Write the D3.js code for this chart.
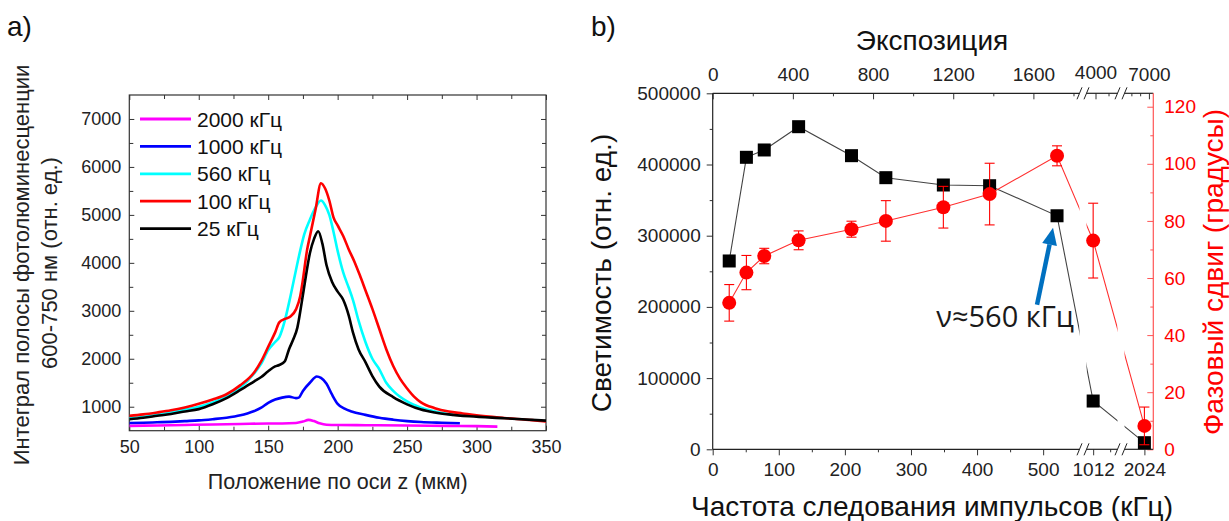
<!DOCTYPE html>
<html>
<head>
<meta charset="utf-8">
<script src="https://cdn.jsdelivr.net/npm/d3@7"></script>
<style>
body { margin: 0; background: #fff; }
svg { font-family: "Liberation Sans", Arial, sans-serif; }
</style>
</head>
<body>
<svg id="chart" width="1229" height="521"></svg>
<script>
// ---- panel a: PL band integral vs z position, one curve per repetition rate ----
var curve2000 = [[50,600],[70,610],[90,620],[110,630],[130,640],[150,650],[160,650],[170,660],[175,690],[179,725],[183,700],[187,655],[192,625],[200,618],[220,615],[250,610],[280,600],[300,595],[315,585]];
var curve1000 = [[50,660],[60,665],[70,675],[80,685],[90,700],[100,715],[110,740],[120,770],[130,820],[135,860],[140,910],[145,980],[150,1080],[155,1150],[160,1190],[165,1210],[170,1180],[172,1190],[175,1330],[180,1500],[185,1630],[188,1600],[192,1480],[196,1250],[200,1060],[205,960],[210,900],[220,830],[230,770],[240,730],[250,700],[260,680],[275,665],[288,655]];
var curve560 = [[50,760],[60,790],[70,830],[80,880],[90,940],[100,1000],[110,1090],[120,1210],[130,1400],[140,1700],[145,1900],[150,2180],[155,2350],[158,2450],[162,2800],[166,3300],[170,3850],[173,4250],[176,4600],[180,4900],[184,5150],[188,5300],[191,5200],[194,5000],[197,4650],[200,4250],[204,3800],[208,3480],[211,3230],[215,2800],[220,2350],[225,2000],[230,1780],[235,1500],[240,1330],[250,1110],[260,980],[270,900],[283,830]];
var curve100 = [[50,810],[60,840],[70,880],[80,925],[90,985],[100,1060],[110,1150],[120,1260],[130,1450],[140,1720],[145,1950],[150,2250],[155,2550],[158,2760],[162,2830],[166,2880],[170,3030],[173,3300],[175,3650],[178,4270],[180,4550],[184,5100],[188,5660],[191,5550],[194,5300],[197,4950],[200,4780],[204,4560],[208,4280],[212,4030],[216,3740],[220,3430],[225,3040],[230,2620],[235,2200],[240,1850],[245,1580],[250,1380],[255,1210],[260,1090],[270,970],[280,900],[290,860],[300,820],[320,765],[340,720],[350,690]];
var curve25 = [[50,740],[60,770],[70,810],[80,850],[90,900],[100,950],[110,1050],[120,1180],[130,1350],[140,1530],[145,1620],[150,1740],[155,1840],[158,1870],[162,1950],[165,2200],[168,2400],[171,2650],[174,3150],[177,3700],[180,4200],[183,4500],[186,4660],[189,4400],[192,3950],[196,3600],[200,3400],[204,3230],[208,2900],[211,2550],[215,2200],[220,1930],[225,1640],[230,1420],[240,1200],[250,1050],[260,940],[270,880],[280,840],[295,800],[320,760],[350,710]];
var legendLabels = ["2000 кГц", "1000 кГц", "560 кГц", "100 кГц", "25 кГц"];
var curveColors = ["#ff00ff", "#0000ff", "#00ffff", "#ff0000", "#000000"];
var zTicks = [50, 100, 150, 200, 250, 300, 350];
var plTicks = [1000, 2000, 3000, 4000, 5000, 6000, 7000];

// ---- panel b: brightness and phase shift vs pulse repetition rate ----
var freqKHz = [25, 51, 78, 130, 210, 262, 349, 419, 521, 1012, 2024];
var brightness = [264500, 410100, 420400, 453100, 412400, 381500, 371200, 370200, 328000, 67800, 9300];
var phaseDeg = [51.3, 61.9, 67.7, 73.2, 77.1, 80.0, 84.8, 89.4, 102.8, 73.1, 8.2];
var phaseErr = [6.4, 6.0, 2.7, 3.3, 2.8, 7.1, 7.3, 10.8, 3.5, 13.1, 6.6];
var freqTicks = [0, 100, 200, 300, 400, 500];
var exposureTicks = [0, 400, 800, 1200, 1600];

var FONT = "'Liberation Sans', Arial, sans-serif";
var fmt = d3.format("d");
var svg = d3.select("#chart");

function addAxis(g, axis, tx, ty, size, color) {
    var a = g.append("g")
        .attr("transform", "translate(" + tx + "," + ty + ")")
        .call(axis)
        .attr("font-size", null)
        .attr("font-family", null);
    a.select(".domain").remove();
    a.selectAll("line").attr("stroke", color || "#333");
    a.selectAll("text")
        .style("font-size", size + "px")
        .style("font-family", FONT)
        .attr("fill", color || "#222");
    return a;
}

// ================= panel a =================
var xA = d3.scaleLinear().domain([50, 350]).range([129.3, 546]);
var yA = d3.scaleLinear().domain([500, 7500]).range([430.7, 95]);
var gA = svg.append("g");

gA.append("clipPath").attr("id", "clipA").append("rect")
    .attr("x", xA(50)).attr("y", yA(7500))
    .attr("width", xA(350) - xA(50)).attr("height", yA(500) - yA(7500));

// ticks, all pointing inward
addAxis(gA, d3.axisBottom(xA).tickValues(zTicks).tickSize(-5).tickPadding(10).tickFormat(fmt), 0, yA(500), 18);
addAxis(gA, d3.axisBottom(xA).tickValues(d3.range(75, 350, 50)).tickSize(-4).tickFormat(""), 0, yA(500), 18);
addAxis(gA, d3.axisTop(xA).tickValues(zTicks).tickSize(-5).tickFormat(""), 0, yA(7500), 18);
addAxis(gA, d3.axisTop(xA).tickValues(d3.range(75, 350, 50)).tickSize(-4).tickFormat(""), 0, yA(7500), 18);
addAxis(gA, d3.axisLeft(yA).tickValues(plTicks).tickSize(-5).tickPadding(8).tickFormat(fmt), xA(50), 0, 18);
addAxis(gA, d3.axisLeft(yA).tickValues(d3.range(1500, 7000, 1000)).tickSize(-4).tickFormat(""), xA(50), 0, 18);
addAxis(gA, d3.axisRight(yA).tickValues(plTicks).tickSize(-5).tickFormat(""), xA(350), 0, 18);
addAxis(gA, d3.axisRight(yA).tickValues(d3.range(1500, 7000, 1000)).tickSize(-4).tickFormat(""), xA(350), 0, 18);

gA.append("rect")
    .attr("x", xA(50)).attr("y", yA(7500))
    .attr("width", xA(350) - xA(50)).attr("height", yA(500) - yA(7500))
    .attr("fill", "none").attr("stroke", "#333").attr("stroke-width", 1.2);

var lineA = d3.line()
    .x(function (d) { return xA(d[0]); })
    .y(function (d) { return yA(d[1]); })
    .curve(d3.curveMonotoneX);

var curves = [curve2000, curve1000, curve560, curve100, curve25];
gA.append("g").attr("clip-path", "url(#clipA)")
    .selectAll("path").data(curves).enter().append("path")
    .attr("d", lineA)
    .attr("fill", "none")
    .attr("stroke-width", 2.6)
    .attr("stroke-linejoin", "round")
    .attr("stroke", function (d, i) { return curveColors[i]; });

// legend
var legend = gA.append("g");
legendLabels.forEach(function (lab, i) {
    var y = 119 + i * 27.4;
    legend.append("line").attr("x1", 140).attr("x2", 191).attr("y1", y).attr("y2", y)
        .attr("stroke", curveColors[i]).attr("stroke-width", 2.8);
    legend.append("text").attr("x", 197).attr("y", y).attr("dy", "0.36em")
        .style("font-size", "21px").attr("fill", "#111").text(lab);
});

gA.append("text").attr("x", (xA(50) + xA(350)) / 2).attr("y", 489)
    .attr("text-anchor", "middle").style("font-size", "21.5px").attr("fill", "#222")
    .text("Положение по оси z (мкм)");
gA.append("text").attr("transform", "translate(29,265) rotate(-90)")
    .attr("text-anchor", "middle").style("font-size", "22px").attr("fill", "#222")
    .text("Интеграл полосы фотолюминесценции");
gA.append("text").attr("transform", "translate(57,263) rotate(-90)")
    .attr("text-anchor", "middle").style("font-size", "22px").attr("fill", "#222")
    .text("600-750 нм (отн. ед.)");
svg.append("text").attr("x", 7).attr("y", 36).style("font-size", "28px").attr("fill", "#111").text("a)");

// ================= panel b =================
var gB = svg.append("g");
var bLeft = 712.7, bRight = 1153.3, bTop = 93.3, bBottom = 449.3;
var brk1 = 1083, brk2 = 1121, half = 3.5;

// broken x axis: three linear pieces
var s1 = d3.scaleLinear().domain([0, 555]).range([bLeft, brk1 - half]);
var s2 = d3.scaleLinear().domain([1000, 1050]).range([brk1 + 2, brk2 - 2]);
var s3 = d3.scaleLinear().domain([2000, 2050]).range([brk2 + 3, 1166.5]);
function xB(v) { return v < 800 ? s1(v) : (v < 1600 ? s2(v) : s3(v)); }

// top axis (exposure), also broken
var t1 = d3.scaleLinear().domain([0, 1830]).range([bLeft, brk1 - half]);
var t2 = d3.scaleLinear().domain([3900, 4300]).range([brk1 + 6, brk2 - 6]);
var t3 = d3.scaleLinear().domain([6500, 7100]).range([brk2 + 6, bRight]);

var yB = d3.scaleLinear().domain([0, 500000]).range([bBottom, bTop]);
var yR = d3.scaleLinear().domain([0, 124.7]).range([bBottom, bTop]);

// bottom ticks (outward)
addAxis(gB, d3.axisBottom(s1).tickValues(freqTicks).tickSize(6).tickPadding(7).tickFormat(fmt), 0, bBottom, 19);
addAxis(gB, d3.axisBottom(s1).tickValues(d3.range(50, 500, 100)).tickSize(3).tickFormat(""), 0, bBottom, 19);
addAxis(gB, d3.axisBottom(s2).tickValues([1012]).tickSize(6).tickPadding(7).tickFormat(fmt), 0, bBottom, 19);
addAxis(gB, d3.axisBottom(s2).tickValues([1037]).tickSize(3).tickFormat(""), 0, bBottom, 19);
addAxis(gB, d3.axisBottom(s3).tickValues([2024]).tickSize(6).tickPadding(7).tickFormat(fmt), 0, bBottom, 19);

// top ticks (inward)
addAxis(gB, d3.axisTop(t1).tickValues(exposureTicks).tickSize(-6).tickPadding(12).tickFormat(fmt), 0, bTop, 19);
addAxis(gB, d3.axisTop(t1).tickValues(d3.range(200, 1900, 400)).tickSize(-3).tickFormat(""), 0, bTop, 19);
addAxis(gB, d3.axisTop(t2).tickValues([4000]).tickSize(-6).tickPadding(14).tickFormat(fmt), 0, bTop, 19);
addAxis(gB, d3.axisTop(t2).tickValues([4200]).tickSize(-3).tickFormat(""), 0, bTop, 19);
addAxis(gB, d3.axisTop(t3).tickValues([7000]).tickSize(-6).tickPadding(12).tickFormat(fmt), 0, bTop, 19);
addAxis(gB, d3.axisTop(t3).tickValues([6600, 6800]).tickSize(-3).tickFormat(""), 0, bTop, 19);

// left axis (outward)
addAxis(gB, d3.axisLeft(yB).tickValues(d3.range(0, 500001, 100000)).tickSize(6).tickPadding(6).tickFormat(fmt), bLeft, 0, 19);
addAxis(gB, d3.axisLeft(yB).tickValues(d3.range(50000, 500000, 100000)).tickSize(3).tickFormat(""), bLeft, 0, 19);

// right red axis (inward)
var red = "#ff0000";
addAxis(gB, d3.axisRight(yR).tickValues(d3.range(0, 121, 20)).tickSize(-6).tickPadding(11).tickFormat(fmt), bRight, 0, 19, red);
addAxis(gB, d3.axisRight(yR).tickValues(d3.range(10, 120, 20)).tickSize(-3).tickFormat(""), bRight, 0, 19, red);
gB.selectAll("line").filter(function () { return d3.select(this).attr("stroke") === red; }).attr("stroke", "#ff5555");

// axis lines with breaks
function hSegments(y) {
    var segs = [[bLeft, brk1 - half], [brk1 + half, brk2 - half], [brk2 + half, bRight]];
    segs.forEach(function (s) {
        gB.append("line").attr("x1", s[0]).attr("x2", s[1]).attr("y1", y).attr("y2", y)
            .attr("stroke", "#222").attr("stroke-width", 1.2);
    });
    [brk1 - half, brk1 + half, brk2 - half, brk2 + half].forEach(function (x) {
        gB.append("line").attr("x1", x - 2.5).attr("x2", x + 2.5).attr("y1", y + 6).attr("y2", y - 6)
            .attr("stroke", "#222").attr("stroke-width", 1);
    });
}
hSegments(bTop);
hSegments(bBottom);
gB.append("line").attr("x1", bLeft).attr("x2", bLeft).attr("y1", bTop).attr("y2", bBottom)
    .attr("stroke", "#222").attr("stroke-width", 1.2);
gB.append("line").attr("x1", bRight).attr("x2", bRight).attr("y1", bTop).attr("y2", bBottom)
    .attr("stroke", "#ff5555").attr("stroke-width", 1.2);

// clip that cuts the connecting lines at the axis breaks
var clipB = gB.append("clipPath").attr("id", "clipB");
[[bLeft - 20, brk1 - half], [brk1 + half, brk2 - half], [brk2 + half, bRight + 20]].forEach(function (s) {
    clipB.append("rect").attr("x", s[0]).attr("y", bTop - 20).attr("width", s[1] - s[0]).attr("height", bBottom - bTop + 40);
});

var pts = freqKHz.map(function (f, i) {
    return { f: f, b: brightness[i], p: phaseDeg[i], e: phaseErr[i] };
});

// brightness (black squares)
gB.append("path").datum(pts)
    .attr("clip-path", "url(#clipB)")
    .attr("d", d3.line().x(function (d) { return xB(d.f); }).y(function (d) { return yB(d.b); }))
    .attr("fill", "none").attr("stroke", "#444").attr("stroke-width", 1.1);
gB.selectAll("rect.sq").data(pts).enter().append("rect")
    .attr("class", "sq")
    .attr("x", function (d) { return xB(d.f) - 6.5; })
    .attr("y", function (d) { return yB(d.b) - 6.5; })
    .attr("width", 13).attr("height", 13)
    .attr("fill", "#000");

// phase shift (red circles with error bars)
gB.append("path").datum(pts)
    .attr("clip-path", "url(#clipB)")
    .attr("d", d3.line().x(function (d) { return xB(d.f); }).y(function (d) { return yR(d.p); }))
    .attr("fill", "none").attr("stroke", "#ff3030").attr("stroke-width", 1.1);
var eb = gB.selectAll("g.eb").data(pts).enter().append("g").attr("class", "eb")
    .attr("stroke", red).attr("stroke-width", 1.1);
eb.append("line")
    .attr("x1", function (d) { return xB(d.f); }).attr("x2", function (d) { return xB(d.f); })
    .attr("y1", function (d) { return yR(d.p - d.e); }).attr("y2", function (d) { return yR(d.p + d.e); });
eb.append("line")
    .attr("x1", function (d) { return xB(d.f) - 5; }).attr("x2", function (d) { return xB(d.f) + 5; })
    .attr("y1", function (d) { return yR(d.p - d.e); }).attr("y2", function (d) { return yR(d.p - d.e); });
eb.append("line")
    .attr("x1", function (d) { return xB(d.f) - 5; }).attr("x2", function (d) { return xB(d.f) + 5; })
    .attr("y1", function (d) { return yR(d.p + d.e); }).attr("y2", function (d) { return yR(d.p + d.e); });
gB.selectAll("circle.ph").data(pts).enter().append("circle")
    .attr("class", "ph")
    .attr("cx", function (d) { return xB(d.f); })
    .attr("cy", function (d) { return yR(d.p); })
    .attr("r", 7).attr("fill", red);

// annotation pointing at the 521 kHz point
var ax0 = xB(521), ay0 = yB(328000);
var tip = [ax0 - 4, ay0 + 12], tail = [ax0 - 20, ay0 + 89];
var dx = tip[0] - tail[0], dy = tip[1] - tail[1], len = Math.sqrt(dx * dx + dy * dy);
var ux = dx / len, uy = dy / len, headL = 17, headW = 7.5;
var base = [tip[0] - ux * headL, tip[1] - uy * headL];
gB.append("line").attr("x1", tail[0]).attr("y1", tail[1]).attr("x2", base[0]).attr("y2", base[1])
    .attr("stroke", "#0070c0").attr("stroke-width", 4.5);
gB.append("path")
    .attr("d", "M" + tip[0] + "," + tip[1] +
        "L" + (base[0] - uy * headW) + "," + (base[1] + ux * headW) +
        "L" + (base[0] + uy * headW) + "," + (base[1] - ux * headW) + "Z")
    .attr("fill", "#0070c0");
gB.append("text").attr("x", ax0 + 17).attr("y", ay0 + 111)
    .attr("text-anchor", "end")
    .style("font-family", "'Open Sans', 'Noto Sans', sans-serif")
    .style("font-size", "29px").attr("fill", "#1a1a1a")
    .text("ν≈560 кГц");

// titles
gB.append("text").attr("x", 932).attr("y", 49.5).attr("text-anchor", "middle")
    .style("font-size", "28px").attr("fill", "#111").text("Экспозиция");
gB.append("text").attr("x", 932).attr("y", 516).attr("text-anchor", "middle")
    .style("font-size", "28px").attr("fill", "#111").text("Частота следования импульсов (кГц)");
gB.append("text").attr("transform", "translate(611,273) rotate(-90)").attr("text-anchor", "middle")
    .style("font-size", "28px").attr("fill", "#111").text("Светимость (отн. ед.)");
gB.append("text").attr("transform", "translate(1223,272) rotate(-90)").attr("text-anchor", "middle")
    .style("font-size", "28px").attr("fill", red).text("Фазовый сдвиг (градусы)");
svg.append("text").attr("x", 591).attr("y", 36).style("font-size", "28px").attr("fill", "#111").text("b)");
</script>
</body>
</html>
